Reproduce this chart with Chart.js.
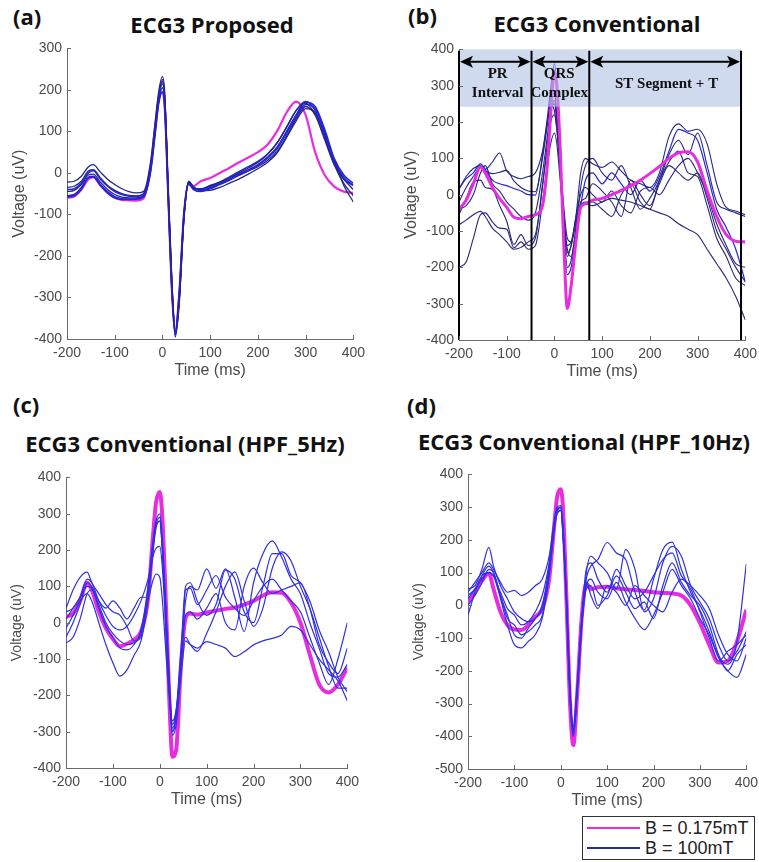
<!DOCTYPE html>
<html><head><meta charset="utf-8">
<script src="https://cdn.jsdelivr.net/npm/chart.js@4/dist/chart.umd.min.js"></script>
<style>
html,body{margin:0;padding:0;background:#fff;overflow:hidden;width:759px;height:862px;position:relative;}
canvas{position:absolute;}
.ttl{position:absolute;font-family:'Open Sans',sans-serif;font-weight:700;font-size:22px;line-height:22px;color:#111;white-space:nowrap;}
.ctr{transform:translateX(-50%);}
.lg{position:absolute;font-family:'Liberation Sans',Arial,sans-serif;font-size:18px;line-height:18px;color:#222;white-space:nowrap;}
.ln{position:absolute;height:2px;}
</style></head><body>
<div class="ttl" style="left:13px;top:5px;">(a)</div>
<div class="ttl ctr" style="left:212px;top:13px;">ECG3 Proposed</div>
<div class="ttl" style="left:408px;top:4px;">(b)</div>
<div class="ttl ctr" style="left:597px;top:12px;">ECG3 Conventional</div>
<div class="ttl" style="left:13px;top:393px;">(c)</div>
<div class="ttl ctr" style="left:185px;top:432px;">ECG3 Conventional (HPF_5Hz)</div>
<div class="ttl" style="left:407px;top:394px;">(d)</div>
<div class="ttl ctr" style="left:584px;top:430px;">ECG3 Conventional (HPF_10Hz)</div>

<canvas id="ca"></canvas><canvas id="cb"></canvas><canvas id="cc"></canvas><canvas id="cd"></canvas>

<div style="position:absolute;left:582px;top:816px;width:171px;height:42px;border:1.5px solid #333;background:#fff;"></div>
<div class="ln" style="left:587px;top:827px;width:53px;background:#e62ee0;"></div>
<div class="ln" style="left:587px;top:847px;width:53px;background:#2a2a9a;"></div>
<div class="lg" style="left:645px;top:819px;">B = 0.175mT</div>
<div class="lg" style="left:645px;top:839px;">B = 100mT</div>

<script>
// ---------- DATA ----------
const timeMs = [-200,-185,-170,-155,-145,-130,-115,-100,-85,-70,-55,-40,-25,-15,-8,0,5,12,20,27,35,45,55,65,80,100,120,140,160,180,200,220,240,260,280,300,320,340,360,380,400];

// (a) ECG3 Proposed
const a_mag   = [-60,-57,-40,-15,-10,-30,-48,-60,-65,-66,-67,-62,15,115,178,195,155,-50,-285,-380,-295,-100,-25,-32,-20,-12,0,12,25,37,50,68,100,145,172,140,50,-5,-33,-45,-48];
const a_blue1 = [-22,-20,-8,15,20,2,-15,-28,-38,-45,-48,-45,25,125,195,232,190,-40,-270,-390,-320,-110,-22,-35,-38,-30,-22,-12,0,12,25,45,72,110,150,168,140,80,20,-15,-40];
const a_blue2 = [-40,-38,-25,0,5,-15,-32,-45,-52,-56,-57,-52,12,112,182,215,170,-45,-280,-385,-300,-100,-22,-35,-40,-32,-22,-10,3,15,28,45,72,110,150,172,150,90,25,-15,-30];
const a_blue3 = [-55,-52,-35,-10,-8,-28,-45,-57,-62,-63,-63,-58,5,100,170,205,160,-55,-285,-380,-290,-100,-25,-38,-42,-35,-25,-15,-3,8,20,38,62,100,140,170,160,105,35,-5,-25];
const a_blue4 = [-58,-55,-40,-12,-10,-30,-48,-60,-64,-64,-63,-58,0,95,165,195,150,-60,-290,-395,-300,-105,-28,-40,-45,-38,-28,-18,-5,5,18,35,58,95,135,165,155,100,30,-10,-30];
const a_blue5 = [-45,-42,-28,-5,-3,-22,-40,-52,-58,-60,-60,-55,8,105,175,220,175,-40,-275,-390,-305,-105,-22,-36,-40,-35,-27,-17,-6,5,15,30,52,88,130,160,140,85,20,-25,-55];
const a_blue6 = [-35,-32,-20,5,8,-12,-30,-42,-50,-54,-55,-50,15,115,185,225,180,-35,-270,-385,-310,-110,-20,-33,-43,-42,-35,-25,-15,-3,10,25,48,85,125,155,145,95,30,-30,-70];

// (b) ECG3 Conventional
const b_mag   = [-40,-15,30,76,60,20,-10,-35,-62,-66,-60,-55,-30,80,220,340,300,130,-150,-313,-250,-130,-35,-25,-15,-10,0,12,25,40,58,78,100,115,118,90,10,-60,-110,-128,-130];
const b_blue1 = [15,50,72,80,70,90,115,65,50,44,50,60,120,200,250,230,180,80,-40,-120,-130,-60,60,100,85,75,90,65,40,30,20,60,160,195,175,180,140,30,-35,-45,-55];
const b_blue2 = [-20,20,50,76,65,58,62,67,38,20,10,8,100,190,260,280,220,100,-60,-150,-170,-90,20,80,100,60,40,80,20,-40,-10,40,110,150,110,170,80,-20,-40,-50,-60];
const b_blue3 = [-55,-10,35,40,20,15,-30,-73,-137,-110,-140,-120,30,130,200,220,180,60,-100,-200,-180,-100,-20,-10,30,10,-20,-60,40,0,-30,30,80,60,40,60,-10,-100,-150,-200,-240];
const b_blue4 = [-83,-70,-55,-46,-60,-92,-110,-130,-150,-145,-130,-110,20,140,230,250,200,70,-90,-170,-140,-80,-30,-20,-20,-40,-60,0,30,-20,-40,40,90,120,60,50,-30,-120,-170,-230,-250];
const b_blue5 = [-200,-185,-120,-55,-50,-75,-92,-95,-146,-130,-150,-140,-20,80,140,170,140,40,-80,-140,-130,-70,-30,-25,-30,-20,-10,-15,-20,-30,-40,-50,-60,-80,-95,-110,-150,-190,-230,-280,-345];
const b_blue6 = [17,44,60,85,70,40,30,25,17,10,0,-1,110,210,290,360,300,120,-120,-220,-200,-110,-30,40,60,30,60,30,0,40,10,50,120,180,170,150,60,-40,-90,-150,-240];
const b_blue7 = [-40,-30,0,60,80,30,10,-20,-40,-60,-70,-50,60,160,230,260,210,90,-70,-160,-140,-60,0,20,0,-20,10,-30,-50,10,20,0,40,80,100,60,0,-80,-140,-190,-200];
const b_segBounds = [-200,-48,73,391];
const b_bandTop = 400, b_bandBottom = 242, b_arrowLevel = 366;
const b_segLabels = [
  {x:-119, lines:['PR','Interval'], y:[332,280]},
  {x:10,   lines:['QRS','Complex'], y:[332,280]},
  {x:235,  lines:['ST Segment + T'], y:[305]}
];

// (c) ECG3 Conventional (HPF_5Hz)
const c_mag   = [16,25,60,110,90,30,-15,-45,-65,-58,-47,-24,66,230,330,360,300,90,-200,-369,-350,-120,12,25,22,28,33,38,42,50,60,75,84,82,55,0,-88,-170,-192,-170,-124];
const c_blue1 = [39,90,125,139,110,80,50,30,21,-10,-50,-40,80,200,270,290,220,60,-150,-290,-250,-100,60,100,90,148,95,148,70,-24,110,190,225,180,120,80,0,-70,-140,-150,-115];
const c_blue2 = [-15,20,60,80,60,0,-60,-110,-147,-130,-90,-50,60,190,260,280,210,40,-170,-300,-260,-110,-40,-60,-79,-30,30,100,140,60,-10,40,150,195,170,100,40,-40,-120,-180,-180];
const c_blue3 = [-56,-40,10,80,90,40,-10,-40,-70,-75,-60,-20,100,220,280,300,240,70,-150,-280,-240,-80,100,110,60,20,50,145,120,30,0,100,190,190,130,110,60,-20,-80,-150,-190];
const c_blue4 = [10,40,70,100,95,50,0,-30,-50,-60,-55,-30,90,210,270,280,210,40,-180,-310,-280,-150,-50,-60,-70,-52,-60,-70,-93,-80,-61,-50,-43,-34,-10,-20,-60,-100,-130,-160,-215];
const c_blue5 = [30,40,70,120,110,60,20,-10,-20,-10,20,60,120,180,205,210,160,10,-190,-300,-260,-120,90,95,50,90,130,70,40,20,60,100,120,90,60,30,-40,-110,-170,-100,0];
const c_blue6 = [-40,0,50,110,100,60,40,60,40,10,40,70,70,115,134,125,70,-60,-200,-270,-240,-120,20,30,10,40,80,0,-20,100,150,110,80,90,100,110,40,-60,-110,-140,-70];

// (d) ECG3 Conventional (HPF_10Hz)
const d_mag   = [11,40,75,97,50,-20,-60,-74,-75,-60,-35,-10,80,230,330,355,290,30,-300,-427,-280,-40,67,50,55,57,52,49,47,44,40,38,36,30,0,-54,-120,-175,-170,-110,-14];
const d_blue1 = [50,60,110,177,120,60,20,-20,-40,-50,-40,0,120,240,290,300,230,40,-260,-380,-260,-50,80,120,140,192,160,140,40,-14,80,170,193,110,40,-14,-80,-155,-180,-110,127];
const d_blue2 = [-30,40,90,120,100,30,-40,-60,-90,-80,-60,-30,100,230,290,300,220,20,-280,-400,-270,-60,100,150,130,100,50,170,110,-20,20,130,180,150,60,10,-40,-120,-170,-140,-80];
const d_blue3 = [20,50,80,100,90,20,-60,-120,-130,-110,-90,-40,90,220,280,290,210,10,-290,-400,-280,-70,60,80,40,20,70,10,-40,-74,-30,40,110,60,20,-40,-90,-160,-200,-220,-150];
const d_blue4 = [40,70,100,130,110,70,40,46,30,40,60,80,150,250,300,305,240,40,-260,-370,-250,-40,110,130,80,40,110,60,20,40,90,140,160,90,60,30,-10,-90,-150,-170,-100];
const d_blue5 = [0,30,70,110,100,30,-30,-90,-100,-70,-40,-10,110,230,280,290,210,20,-270,-390,-270,-60,50,60,0,30,90,40,-10,10,-40,60,130,70,30,0,-60,-150,-200,-150,-120];
const d_blue6 = [30,50,90,100,90,40,-10,-30,-60,-50,-20,30,130,240,290,295,220,30,-270,-380,-260,-50,70,30,-10,60,40,0,60,30,0,-20,40,80,50,-20,-100,-170,-140,-120,-90];

const xTicks = {min:-200, max:400, step:100};

// ---------- STYLE / LAYOUT ----------
const MAG = '#e62ee0';
const NAVY = '#262680';
const BRIGHT = '#2424d8';
const CDBLUE = '#3030e2';
const AXIS = '#6a6a6a';
const TXT = '#4a4a4a';

function pts(arr){ return timeMs.map((t,i)=>({x:t, y:arr[i]})); }
function ds(arr, color, w){ return {data:pts(arr), borderColor:color, borderWidth:w, pointRadius:0, fill:false, cubicInterpolationMode:'monotone'}; }

const inTicks = {
  id:'inTicks',
  afterDraw(chart){
    const {ctx, scales:{x,y}, chartArea:ca} = chart;
    ctx.save(); ctx.strokeStyle=AXIS; ctx.lineWidth=1;
    x.ticks.forEach(t=>{const px=Math.round(x.getPixelForValue(t.value))+0.5; ctx.beginPath(); ctx.moveTo(px,ca.bottom); ctx.lineTo(px,ca.bottom-4); ctx.stroke();});
    y.ticks.forEach(t=>{const py=Math.round(y.getPixelForValue(t.value))+0.5; ctx.beginPath(); ctx.moveTo(ca.left,py); ctx.lineTo(ca.left+4,py); ctx.stroke();});
    ctx.restore();
  }
};

const annotB = {
  id:'annotB',
  afterDatasetsDraw(chart){
    const {ctx, scales:{x,y}} = chart;
    ctx.save();
    const x0=x.getPixelForValue(b_segBounds[0]), x1=x.getPixelForValue(b_segBounds[b_segBounds.length-1]);
    const y0=y.getPixelForValue(b_bandTop), y1=y.getPixelForValue(b_bandBottom);
    ctx.fillStyle='rgba(172,192,228,0.58)';
    ctx.fillRect(x0,y0,x1-x0,y1-y0);
    ctx.strokeStyle='#000'; ctx.lineWidth=2;
    const yt=y.getPixelForValue(396), yb=y.getPixelForValue(-400);
    b_segBounds.forEach(v=>{const px=x.getPixelForValue(v); ctx.beginPath(); ctx.moveTo(px,yt); ctx.lineTo(px,yb); ctx.stroke();});
    const ya=y.getPixelForValue(b_arrowLevel);
    ctx.fillStyle='#000';
    for(let i=0;i<b_segBounds.length-1;i++){
      const a=x.getPixelForValue(b_segBounds[i])+1, b=x.getPixelForValue(b_segBounds[i+1])-1;
      ctx.beginPath(); ctx.moveTo(a+8,ya); ctx.lineTo(b-8,ya); ctx.stroke();
      ctx.beginPath(); ctx.moveTo(a,ya); ctx.lineTo(a+13,ya-6); ctx.lineTo(a+10,ya); ctx.lineTo(a+13,ya+6); ctx.closePath(); ctx.fill();
      ctx.beginPath(); ctx.moveTo(b,ya); ctx.lineTo(b-13,ya-6); ctx.lineTo(b-10,ya); ctx.lineTo(b-13,ya+6); ctx.closePath(); ctx.fill();
    }
    ctx.font='bold 15px "Liberation Serif", "Times New Roman", serif';
    ctx.textAlign='center'; ctx.textBaseline='middle'; ctx.fillStyle='#111';
    b_segLabels.forEach(l=>{ l.lines.forEach((s,k)=>ctx.fillText(s, x.getPixelForValue(l.x), y.getPixelForValue(l.y[k]))); });
    ctx.restore();
  }
};

const panels = {
  a:{L:67,R:355,T:45,B:339,ymin:-400,ymax:300,yTitle:16},
  b:{L:459,R:747,T:46,B:340,ymin:-400,ymax:400,yTitle:16},
  c:{L:66,R:349,T:474,B:768,ymin:-400,ymax:400,yTitle:14},
  d:{L:468,R:748,T:471,B:769,ymin:-500,ymax:400,yTitle:14}
};
const YW=62, XH=46, PT=10, PR=16;

function makeChart(canvasId, p, datasets, extra){
  const cv=document.getElementById(canvasId);
  const w=p.R-p.L+YW+PR, h=p.B-p.T+PT+XH;
  cv.width=w; cv.height=h; cv.style.width=w+'px'; cv.style.height=h+'px';
  cv.style.left=(p.L-YW)+'px'; cv.style.top=(p.T-PT)+'px';
  return new Chart(cv,{
    type:'line',
    data:{datasets},
    options:{
      responsive:false, animation:false, devicePixelRatio:1,
      layout:{padding:{top:PT,right:PR,left:0,bottom:0}},
      plugins:{legend:{display:false}, tooltip:{enabled:false}},
      scales:{
        x:{type:'linear', min:xTicks.min, max:xTicks.max,
           ticks:{stepSize:xTicks.step, color:TXT, font:{family:'Liberation Sans', size:14}, padding:6, maxRotation:0, autoSkip:false},
           grid:{display:true, drawOnChartArea:false, drawTicks:false, color:AXIS},
           border:{display:true, color:AXIS, width:1},
           title:{display:true, text:'Time (ms)', color:TXT, font:{family:'Liberation Sans', size:16}, padding:{top:0,bottom:5}},
           afterFit(s){ s.height=XH; }},
        y:{type:'linear', min:p.ymin, max:p.ymax,
           ticks:{stepSize:100, color:TXT, font:{family:'Liberation Sans', size:14}, padding:5},
           grid:{display:true, drawOnChartArea:false, drawTicks:false, color:AXIS},
           border:{display:true, color:AXIS, width:1},
           title:{display:true, text:'Voltage (uV)', color:TXT, font:{family:'Liberation Sans', size:p.yTitle}, padding:{top:5,bottom:0}},
           afterFit(s){ s.width=YW; }}
      }
    },
    plugins:[inTicks].concat(extra||[])
  });
}

makeChart('ca', panels.a, [
  ds(a_blue1,NAVY,1.3), ds(a_blue2,BRIGHT,1.5), ds(a_blue3,BRIGHT,1.5), ds(a_blue4,BRIGHT,1.5),
  ds(a_blue5,NAVY,1.3), ds(a_blue6,NAVY,1.3), ds(a_mag,MAG,2.2)
]);
makeChart('cb', panels.b, [
  ds(b_mag,MAG,3),
  ds(b_blue1,NAVY,1.1), ds(b_blue2,NAVY,1.1), ds(b_blue3,NAVY,1.1), ds(b_blue4,NAVY,1.1),
  ds(b_blue5,NAVY,1.1), ds(b_blue6,BRIGHT,1.2), ds(b_blue7,NAVY,1.1)
], [annotB]);
makeChart('cc', panels.c, [
  ds(c_blue1,CDBLUE,1.2), ds(c_blue2,CDBLUE,1.2), ds(c_blue3,CDBLUE,1.2), ds(c_blue4,CDBLUE,1.2),
  ds(c_blue5,CDBLUE,1.2), ds(c_blue6,CDBLUE,1.2), ds(c_mag,MAG,4)
]);
makeChart('cd', panels.d, [
  ds(d_blue1,CDBLUE,1.2), ds(d_blue2,CDBLUE,1.2), ds(d_blue3,CDBLUE,1.2), ds(d_blue4,CDBLUE,1.2),
  ds(d_blue5,CDBLUE,1.2), ds(d_blue6,CDBLUE,1.2), ds(d_mag,MAG,4)
]);
</script>
</body></html>
